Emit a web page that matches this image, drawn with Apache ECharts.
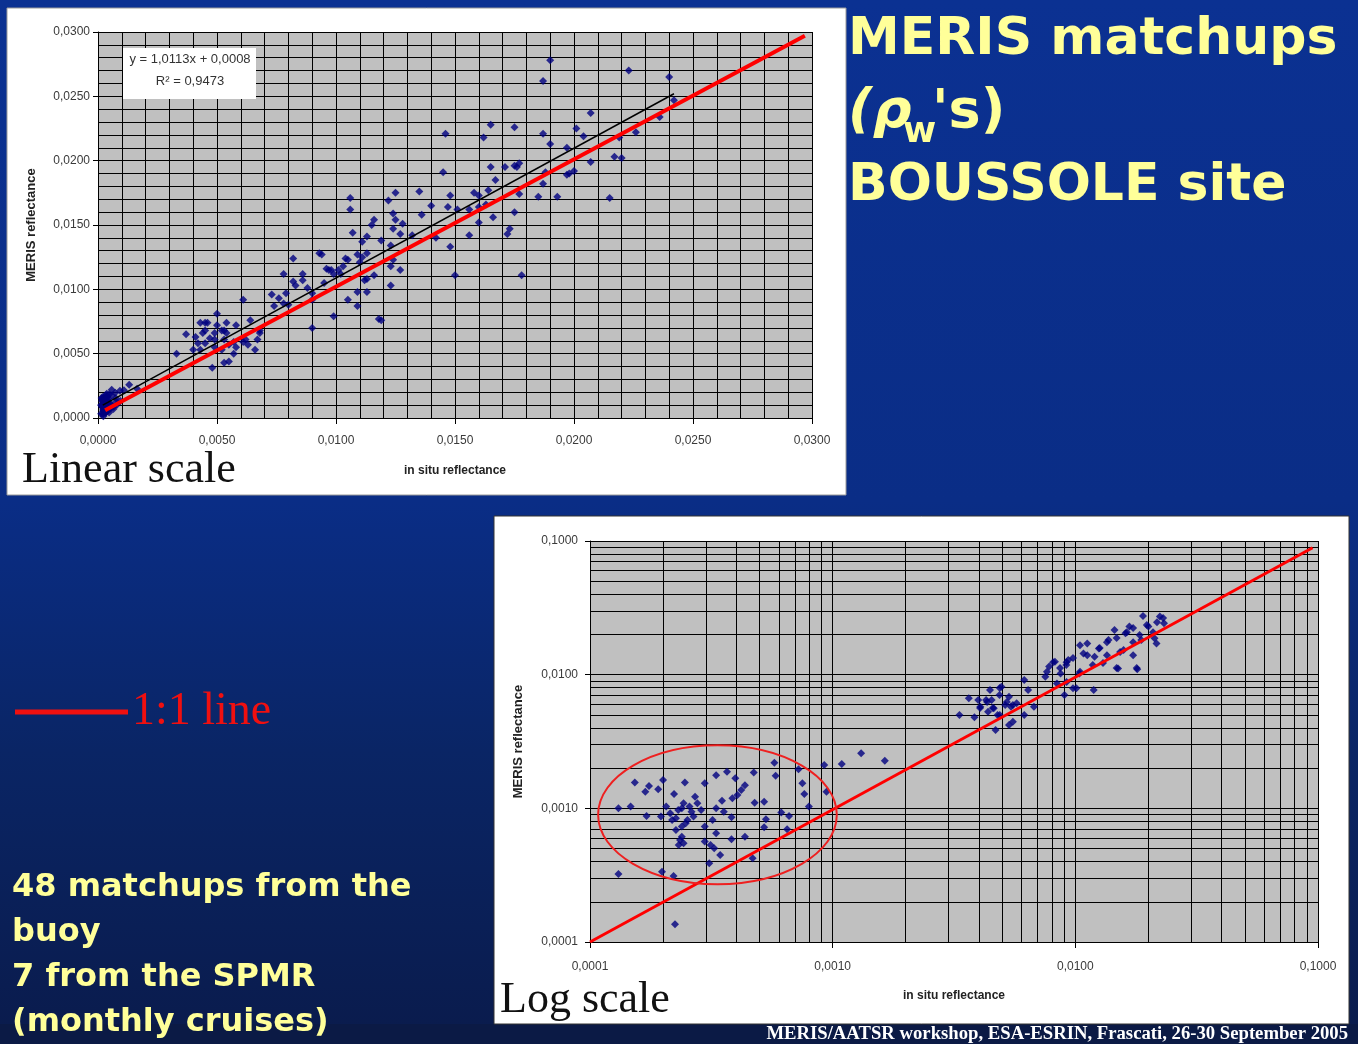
<!DOCTYPE html>
<html>
<head>
<meta charset="utf-8">
<script src="https://cdn.jsdelivr.net/npm/echarts@6.0.0/dist/echarts.min.js"></script>
<style>
  html, body { margin: 0; padding: 0; }
  #slide { width: 1358px; height: 1044px; }
</style>
</head>
<body>
<div id="slide"></div>
<script>
// matchups below ~0.002 (read on the log plot, used in both plots)
const lowCluster = [
  [0.000131, 0.00100], [0.000147, 0.00103], [0.000131, 0.000323], [0.000153, 0.00156],
  [0.000175, 0.00147], [0.000169, 0.00133], [0.000191, 0.00139], [0.000200, 0.00163],
  [0.000171, 0.000877], [0.000196, 0.000867], [0.000222, 0.00128], [0.000246, 0.00156],
  [0.000206, 0.00103], [0.000218, 0.000818], [0.000231, 0.000971], [0.000243, 0.00109],
  [0.000257, 0.00103], [0.000271, 0.00122], [0.000287, 0.000971], [0.000267, 0.000867],
  [0.000248, 0.000773], [0.000226, 0.000689], [0.000235, 0.000579], [0.000243, 0.000547],
  [0.000239, 0.000614], [0.000297, 0.00154], [0.000331, 0.00177], [0.000367, 0.00188],
  [0.000397, 0.00168], [0.000435, 0.00149], [0.000473, 0.00185], [0.000420, 0.00137],
  [0.000405, 0.00126], [0.000386, 0.00119], [0.000350, 0.00114], [0.000331, 0.00100],
  [0.000356, 0.000944], [0.000383, 0.000857], [0.000320, 0.000818], [0.000297, 0.000730],
  [0.000331, 0.000650], [0.000297, 0.000564], [0.000314, 0.000532], [0.000325, 0.000502],
  [0.000344, 0.000448], [0.000310, 0.000388], [0.000383, 0.000586], [0.000435, 0.000614],
  [0.000477, 0.00110], [0.000522, 0.00112], [0.000531, 0.000828], [0.000522, 0.000722],
  [0.000575, 0.00219], [0.000582, 0.00175], [0.000614, 0.000929], [0.000661, 0.000877],
  [0.000649, 0.000697], [0.000723, 0.00196], [0.000750, 0.00154], [0.000764, 0.00128],
  [0.000798, 0.00103], [0.000468, 0.000423], [0.000198, 0.000336], [0.000221, 0.000312],
  [0.000224, 0.000136], [0.000923, 0.00211], [0.00109, 0.00215], [0.00131, 0.00258],
  [0.00164, 0.00227], [0.000943, 0.00133], [0.000214, 0.000918], [0.000239, 0.00100],
  [0.000262, 0.000944], [0.000277, 0.00109], [0.000252, 0.000818], [0.000239, 0.000730],
  [0.000226, 0.000843], [0.000232, 0.000532]
]

// higher matchups as read on the linear plot
const linearUpper = [
  [0.0190, 0.0278], [0.0187, 0.0262], [0.0223, 0.0270], [0.0240, 0.0265], [0.0242, 0.0247],
  [0.0207, 0.0237], [0.0236, 0.0234], [0.0226, 0.0222], [0.0219, 0.0218], [0.0217, 0.0203],
  [0.0220, 0.0202], [0.0207, 0.0199], [0.0215, 0.0171], [0.0204, 0.0219], [0.0201, 0.0225],
  [0.0197, 0.0210], [0.0190, 0.0213], [0.0187, 0.0221], [0.0198, 0.0190], [0.0200, 0.0192],
  [0.0197, 0.0189], [0.0193, 0.0172], [0.0187, 0.0182], [0.0188, 0.0191], [0.0185, 0.0172],
  [0.0177, 0.0198], [0.0176, 0.0195], [0.0175, 0.0196], [0.0165, 0.0228], [0.0175, 0.0226],
  [0.0162, 0.0218], [0.0165, 0.0195], [0.0171, 0.0195], [0.0167, 0.0185], [0.0164, 0.0177],
  [0.0177, 0.0174], [0.0175, 0.0160], [0.0173, 0.0147], [0.0172, 0.0143], [0.0178, 0.0111],
  [0.0160, 0.0173], [0.0158, 0.0175], [0.0156, 0.0162], [0.0160, 0.0164], [0.0163, 0.0166],
  [0.0166, 0.0156], [0.0160, 0.0152], [0.0156, 0.0142], [0.0148, 0.0173], [0.0145, 0.0191],
  [0.0146, 0.0221], [0.0151, 0.0162], [0.0147, 0.0164], [0.0148, 0.0133], [0.0150, 0.0111],
  [0.0142, 0.0140], [0.0140, 0.0165], [0.0136, 0.0158], [0.0135, 0.0176], [0.0132, 0.0142],
  [0.0128, 0.0151], [0.0125, 0.0175], [0.0122, 0.0169], [0.0124, 0.0159], [0.0125, 0.0154],
  [0.0124, 0.0147], [0.0127, 0.0143], [0.0123, 0.0134], [0.0119, 0.0138], [0.0116, 0.0154],
  [0.0113, 0.0141], [0.0115, 0.0150], [0.0106, 0.0171], [0.0106, 0.0162], [0.0107, 0.0144],
  [0.0111, 0.0137], [0.0109, 0.0127], [0.0111, 0.0125], [0.0113, 0.0128], [0.0110, 0.0121],
  [0.0105, 0.0123], [0.0103, 0.0118], [0.0101, 0.0115], [0.0102, 0.0112], [0.0098, 0.0115],
  [0.0104, 0.0124], [0.0124, 0.0123], [0.0123, 0.0118], [0.0127, 0.0115], [0.0123, 0.0103],
  [0.0116, 0.0111], [0.0113, 0.0108], [0.0112, 0.0107], [0.0113, 0.0098], [0.0109, 0.0098],
  [0.0105, 0.0092], [0.0109, 0.0087], [0.0099, 0.0079], [0.0119, 0.0076], [0.0118, 0.0077],
  [0.0090, 0.0070], [0.0093, 0.0128], [0.0094, 0.0127], [0.0082, 0.0124], [0.0078, 0.0112],
  [0.0082, 0.0106], [0.0083, 0.0103], [0.0086, 0.0107], [0.0088, 0.0101], [0.0086, 0.0112],
  [0.0090, 0.0092], [0.0090, 0.0097], [0.0095, 0.0105], [0.0096, 0.0116], [0.0097, 0.0115],
  [0.0099, 0.0112], [0.0073, 0.0096], [0.0076, 0.0093], [0.0079, 0.0097], [0.0074, 0.0087],
  [0.0080, 0.0088], [0.0078, 0.0089], [0.0061, 0.0092], [0.0064, 0.0076], [0.0068, 0.0066],
  [0.0067, 0.0061], [0.0037, 0.0065], [0.0033, 0.0050], [0.0045, 0.0074], [0.0046, 0.0074],
  [0.0050, 0.0081], [0.0041, 0.0063], [0.0044, 0.0066], [0.0047, 0.0062], [0.0045, 0.0058],
  [0.0049, 0.0066], [0.0052, 0.0068], [0.0054, 0.0066], [0.0053, 0.0061], [0.0057, 0.0059],
  [0.0058, 0.0055], [0.0061, 0.0059], [0.0063, 0.0057], [0.0049, 0.0055], [0.0042, 0.0058],
  [0.0040, 0.0053], [0.0053, 0.0043], [0.0055, 0.0044], [0.0048, 0.0039], [0.0057, 0.0050],
  [0.0052, 0.0053], [0.0043, 0.0074], [0.0050, 0.0072], [0.0054, 0.0074], [0.0045, 0.0068],
  [0.0049, 0.0061], [0.0055, 0.0057], [0.0062, 0.0061], [0.0043, 0.0053], [0.0053, 0.0068],
  [0.0058, 0.0072], [0.0066, 0.0053], [0.0068, 0.0068]
]

// higher matchups as read on the log plot
const logUpper = [
  [0.00333, 0.00499], [0.00364, 0.00665], [0.00384, 0.00480], [0.00406, 0.00576],
  [0.00429, 0.00646], [0.00445, 0.00768], [0.00461, 0.00560], [0.00487, 0.00705],
  [0.00496, 0.00813], [0.00514, 0.00593], [0.00533, 0.00684], [0.00437, 0.00528],
  [0.00478, 0.00499], [0.00543, 0.00576], [0.00573, 0.00610], [0.00469, 0.00385],
  [0.00533, 0.00420], [0.00553, 0.00445], [0.00616, 0.00499], [0.00616, 0.00912],
  [0.00639, 0.00768], [0.00675, 0.00576], [0.00398, 0.00646], [0.00452, 0.00646],
  [0.00433, 0.00624], [0.00457, 0.00562], [0.00488, 0.00794], [0.00522, 0.00624],
  [0.00553, 0.00593], [0.00488, 0.00499], [0.00405, 0.00562],
  [0.00752, 0.00966], [0.00780, 0.0115], [0.00824, 0.0125], [0.00869, 0.0102],
  [0.00918, 0.0118], [0.00935, 0.0129], [0.00902, 0.00705], [0.0101, 0.00791],
  [0.0104, 0.0102], [0.0108, 0.0144], [0.0112, 0.0171], [0.0119, 0.00768],
  [0.0120, 0.0136], [0.0125, 0.0157], [0.0130, 0.0122], [0.0137, 0.0182],
  [0.0145, 0.0216], [0.0150, 0.0111], [0.0158, 0.0153], [0.0161, 0.0204],
  [0.0167, 0.0229], [0.0173, 0.0140], [0.0180, 0.0110], [0.0187, 0.0182],
  [0.0190, 0.0275], [0.0200, 0.0229], [0.0212, 0.0187], [0.0223, 0.0272],
  [0.0232, 0.0242], [0.0216, 0.0171], [0.00840, 0.00860], [0.00764, 0.0105],
  [0.00865, 0.0112], [0.00978, 0.0133], [0.0112, 0.0140], [0.0126, 0.0158],
  [0.0135, 0.0175], [0.0148, 0.0188], [0.0163, 0.0208], [0.0173, 0.0223],
  [0.0197, 0.0235], [0.0217, 0.0247], [0.0230, 0.0265], [0.0092, 0.0088],
  [0.01045, 0.0105], [0.0118, 0.0118], [0.0135, 0.0140], [0.0153, 0.0148],
  [0.0173, 0.0175], [0.0184, 0.0198], [0.0209, 0.0208], [0.0148, 0.0112],
  [0.0179, 0.0112], [0.00978, 0.0079], [0.0081, 0.0124], [0.0092, 0.0124],
  [0.01045, 0.0166]
]

const linearOneToOne = [[0.0003, 0.0006], [0.0297, 0.0297]]
const linearTrend = [[0.0002, 0.0010], [0.0242, 0.0252]]
const logOneToOne = [[0.0001, 0.0001], [0.095, 0.089]]
const logMinorTicks = [
  0.0002, 0.0003, 0.0004, 0.0005, 0.0006, 0.0007, 0.0008, 0.0009,
  0.002, 0.003, 0.004, 0.005, 0.006, 0.007, 0.008, 0.009,
  0.02, 0.03, 0.04, 0.05, 0.06, 0.07, 0.08, 0.09
]
// circled group on the log plot: [xmin, ymin], [xmax, ymax]
const ellipseBox = [[0.000108, 0.000271], [0.00104, 0.00296]]
const trendLabel = ['y = 1,0113x + 0,0008', 'R² = 0,9473']

const fmt = v => Number(v).toFixed(4).replace('.', ',')
const axisText = { color: '#3a3a3a', fontSize: 12, fontFamily: 'Liberation Sans' }
const nameText = { color: '#222', fontSize: 12, fontWeight: 'bold', fontFamily: 'Liberation Sans' }
const blackLine = { color: '#000', width: 1 }
const yellow = '#ffff99'
const comic = '"DejaVu Sans"'

const chart = echarts.init(document.getElementById('slide'))

const baseGraphic = [
  { type: 'rect', z: -2, silent: true, shape: { x: 0, y: 0, width: 1358, height: 1044 },
    style: { fill: new echarts.graphic.LinearGradient(0, 0, 0, 1, [
      { offset: 0, color: '#0b3192' },
      { offset: 0.48, color: '#0a2d86' },
      { offset: 0.72, color: '#0a2565' },
      { offset: 1, color: '#0a1b4c' }
    ]) } },
  { type: 'rect', z: -1, silent: true, shape: { x: 0, y: 1024, width: 1358, height: 20 }, style: { fill: '#0b1a45' } },
  { type: 'rect', z: -1, silent: true, shape: { x: 7, y: 8, width: 839, height: 487 }, style: { fill: '#fff', stroke: '#9a9a9a', lineWidth: 1 } },
  { type: 'rect', z: -1, silent: true, shape: { x: 494, y: 516, width: 855, height: 508 }, style: { fill: '#fff', stroke: '#333', lineWidth: 1 } },
  { type: 'rect', z: 10, shape: { x: 123, y: 48, width: 133, height: 51 }, style: { fill: '#fff' } },
  { type: 'text', z: 11, x: 190, y: 59, style: { text: trendLabel[0], fill: '#333', font: '13px "Liberation Sans"', textAlign: 'center', textVerticalAlign: 'middle' } },
  { type: 'text', z: 11, x: 190, y: 81, style: { text: trendLabel[1], fill: '#333', font: '13px "Liberation Sans"', textAlign: 'center', textVerticalAlign: 'middle' } },
  { type: 'text', x: 22, y: 470, style: { text: 'Linear scale', fill: '#111', font: '44px "Liberation Serif"', textVerticalAlign: 'middle' } },
  { type: 'text', x: 500, y: 1000, style: { text: 'Log scale', fill: '#111', font: '44px "Liberation Serif"', textVerticalAlign: 'middle' } },
  { type: 'text', x: 848, y: 40, style: { text: 'MERIS matchups', fill: yellow, font: 'bold 52px ' + comic, textVerticalAlign: 'middle' } },
  { type: 'text', x: 848, y: 113, style: { text: '(ρ', fill: yellow, font: 'italic bold 54px ' + comic, textVerticalAlign: 'middle' } },
  { type: 'text', x: 903, y: 133, style: { text: 'w', fill: yellow, font: 'bold 36px ' + comic, textVerticalAlign: 'middle' } },
  { type: 'text', x: 932, y: 113, style: { text: "'s)", fill: yellow, font: 'bold 54px ' + comic, textVerticalAlign: 'middle' } },
  { type: 'text', x: 848, y: 186, style: { text: 'BOUSSOLE site', fill: yellow, font: 'bold 52px ' + comic, textVerticalAlign: 'middle' } },
  { type: 'line', shape: { x1: 15, y1: 712, x2: 128, y2: 712 }, style: { stroke: '#f01010', lineWidth: 5 } },
  { type: 'text', x: 132, y: 712, style: { text: '1:1 line', fill: '#f01010', font: '46px "Liberation Serif"', textVerticalAlign: 'middle' } },
  { type: 'text', x: 12, y: 865, style: { text: '48 matchups from the\nbuoy\n7 from the SPMR\n(monthly cruises)', fill: yellow, font: 'bold 32px ' + comic, lineHeight: 45, textVerticalAlign: 'top' } },
  { type: 'text', x: 1348, y: 1034, style: { text: 'MERIS/AATSR workshop, ESA-ESRIN, Frascati, 26-30 September 2005', fill: '#fff', font: 'bold 18.7px "Liberation Serif"', textAlign: 'right', textVerticalAlign: 'middle' } }
]

const option = {
  animation: false,
  graphic: baseGraphic,
  grid: [
    { left: 98, top: 32, width: 714, height: 386, show: true, backgroundColor: '#c0c0c0', borderWidth: 0, containLabel: false, outerBoundsMode: 'none' },
    { left: 590, top: 541, width: 728, height: 401, show: true, backgroundColor: '#c0c0c0', borderWidth: 0, containLabel: false, outerBoundsMode: 'none' }
  ],
  xAxis: [
    {
      gridIndex: 0, type: 'value', min: 0, max: 0.03, interval: 0.005,
      name: 'in situ reflectance', nameLocation: 'middle', nameGap: 47, nameTextStyle: nameText,
      axisLine: { show: true, lineStyle: blackLine },
      axisTick: { show: true, length: 6, lineStyle: blackLine },
      axisLabel: Object.assign({ margin: 17, formatter: fmt, showMinLabel: true, showMaxLabel: true }, axisText),
      splitLine: { show: true, lineStyle: blackLine },
      minorTick: { show: false, splitNumber: 5 },
      minorSplitLine: { show: true, lineStyle: blackLine }
    },
    {
      gridIndex: 1, type: 'log', logBase: 10, min: 0.0001, max: 0.1,
      name: 'in situ reflectance', nameLocation: 'middle', nameGap: 48, nameTextStyle: nameText,
      axisLine: { show: true, lineStyle: blackLine },
      axisTick: { show: true, length: 6, lineStyle: blackLine },
      axisLabel: Object.assign({ margin: 19, formatter: fmt, showMinLabel: true, showMaxLabel: true }, axisText),
      splitLine: { show: true, lineStyle: blackLine }
    }
  ],
  yAxis: [
    {
      gridIndex: 0, type: 'value', min: 0, max: 0.03, interval: 0.005,
      name: 'MERIS reflectance', nameLocation: 'middle', nameGap: 60,
      nameTextStyle: Object.assign({}, nameText, { fontSize: 13 }),
      axisLine: { show: true, lineStyle: blackLine },
      axisTick: { show: true, length: 5, lineStyle: blackLine },
      axisLabel: Object.assign({ margin: 8, formatter: fmt, showMinLabel: true, showMaxLabel: true }, axisText),
      splitLine: { show: true, lineStyle: blackLine },
      minorTick: { show: false, splitNumber: 5 },
      minorSplitLine: { show: true, lineStyle: blackLine }
    },
    {
      gridIndex: 1, type: 'log', logBase: 10, min: 0.0001, max: 0.1,
      name: 'MERIS reflectance', nameLocation: 'middle', nameGap: 65,
      nameTextStyle: Object.assign({}, nameText, { fontSize: 13 }),
      axisLine: { show: true, lineStyle: blackLine },
      axisTick: { show: true, length: 5, lineStyle: blackLine },
      axisLabel: Object.assign({ margin: 12, formatter: fmt, showMinLabel: true, showMaxLabel: true }, axisText),
      splitLine: { show: true, lineStyle: blackLine }
    }
  ],
  series: [
    {
      name: 'matchups linear', type: 'scatter', xAxisIndex: 0, yAxisIndex: 0, z: 3,
      symbol: 'diamond', symbolSize: 8, itemStyle: { color: '#000080' },
      data: lowCluster.concat(linearUpper)
    },
    {
      name: 'trend', type: 'line', xAxisIndex: 0, yAxisIndex: 0, z: 4,
      symbol: 'none', lineStyle: { color: '#000', width: 1.5 }, data: linearTrend
    },
    {
      name: '1:1 linear', type: 'line', xAxisIndex: 0, yAxisIndex: 0, z: 5,
      symbol: 'none', lineStyle: { color: '#ff0000', width: 4 }, data: linearOneToOne
    },
    {
      name: 'matchups log', type: 'scatter', xAxisIndex: 1, yAxisIndex: 1, z: 3,
      symbol: 'diamond', symbolSize: 8, itemStyle: { color: '#000080' },
      data: lowCluster.concat(logUpper)
    },
    {
      name: '1:1 log', type: 'line', xAxisIndex: 1, yAxisIndex: 1, z: 5,
      symbol: 'none', lineStyle: { color: '#ff0000', width: 3 }, data: logOneToOne,
      markLine: {
        silent: true, z: 1, animation: false, precision: 6, symbol: ['none', 'none'],
        label: { show: false }, emphasis: { disabled: true },
        lineStyle: { color: '#000', width: 1, type: 'solid' },
        data: logMinorTicks.map(v => ({ xAxis: v })).concat(logMinorTicks.map(v => ({ yAxis: v })))
      }
    }
  ]
}

chart.setOption(option)

// ring round the low-reflectance group, placed through the log axes
const a = chart.convertToPixel({ gridIndex: 1 }, ellipseBox[0])
const b = chart.convertToPixel({ gridIndex: 1 }, ellipseBox[1])
chart.setOption({
  graphic: baseGraphic.concat([{
    type: 'ellipse', z: 10, silent: true,
    shape: { cx: (a[0] + b[0]) / 2, cy: (a[1] + b[1]) / 2, rx: Math.abs(b[0] - a[0]) / 2, ry: Math.abs(b[1] - a[1]) / 2 },
    style: { fill: 'none', stroke: '#ee2020', lineWidth: 2 }
  }])
})
</script>
</body>
</html>
